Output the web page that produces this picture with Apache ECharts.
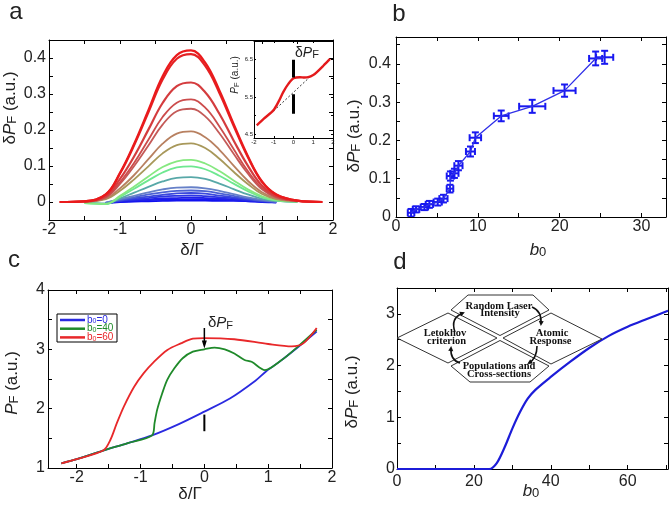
<!DOCTYPE html>
<html>
<head>
<meta charset="utf-8">
<script src="https://cdn.jsdelivr.net/npm/echarts@6/dist/echarts.min.js"></script>
<style>
html, body { margin: 0; padding: 0; background: #fff; }
#chart { width: 671px; height: 508px; }
</style>
</head>
<body>
<div id="chart"></div>
<script>
var FONT = 'Liberation Sans';
var INK = '#222';

// ---- panel a: dPF vs detuning, one curve per b0 (low/blue -> high/red)
var aX = [-1.85, -1.5, -1.2, -1.0, -0.8, -0.6, -0.4, -0.2, 0, 0.2, 0.4, 0.6, 0.8, 1.0, 1.2, 1.5, 1.85];
var aCurves = [
    [null, null, -0.003, 0.000, 0.001, 0.002, 0.003, 0.004, 0.004, 0.004, 0.003, 0.003, 0.002, 0.000, -0.001, null, null],
    [null, null, -0.003, 0.001, 0.003, 0.005, 0.006, 0.007, 0.008, 0.008, 0.007, 0.005, 0.003, 0.001, -0.001, null, null],
    [null, null, -0.003, 0.002, 0.005, 0.007, 0.010, 0.011, 0.012, 0.011, 0.009, 0.007, 0.004, 0.001, -0.001, null, null],
    [null, null, -0.003, 0.003, 0.007, 0.011, 0.015, 0.017, 0.018, 0.016, 0.013, 0.010, 0.006, 0.002, 0.000, null, null],
    [null, null, -0.003, 0.004, 0.010, 0.015, 0.020, 0.024, 0.025, 0.023, 0.018, 0.013, 0.008, 0.003, 0.000, null, null],
    [null, null, -0.002, 0.006, 0.013, 0.021, 0.027, 0.031, 0.032, 0.030, 0.024, 0.017, 0.010, 0.004, 0.001, null, null],
    [null, null, -0.002, 0.008, 0.017, 0.027, 0.035, 0.040, 0.041, 0.038, 0.031, 0.022, 0.013, 0.006, 0.001, null, null],
    [null, -0.002, -0.004, 0.010, 0.026, 0.042, 0.057, 0.067, 0.069, 0.064, 0.051, 0.036, 0.021, 0.009, 0.003, 0.000, null],
    [null, -0.003, -0.006, 0.014, 0.037, 0.060, 0.082, 0.096, 0.099, 0.091, 0.073, 0.051, 0.030, 0.013, 0.004, 0.001, null],
    [null, -0.003, -0.005, 0.017, 0.043, 0.071, 0.097, 0.113, 0.117, 0.107, 0.086, 0.060, 0.035, 0.016, 0.005, 0.001, null],
    [null, 0.001, 0.008, 0.031, 0.063, 0.099, 0.135, 0.158, 0.163, 0.150, 0.120, 0.084, 0.050, 0.022, 0.008, 0.002, null],
    [null, 0.001, 0.010, 0.038, 0.075, 0.119, 0.162, 0.190, 0.196, 0.180, 0.145, 0.101, 0.059, 0.027, 0.010, 0.002, null],
    [null, 0.001, 0.013, 0.050, 0.100, 0.157, 0.215, 0.252, 0.259, 0.238, 0.191, 0.134, 0.079, 0.035, 0.013, 0.003, null],
    [null, 0.001, 0.014, 0.055, 0.109, 0.173, 0.236, 0.276, 0.285, 0.262, 0.210, 0.147, 0.086, 0.039, 0.014, 0.003, null],
    [0.000, 0.002, 0.017, 0.064, 0.127, 0.201, 0.275, 0.322, 0.332, 0.305, 0.245, 0.171, 0.101, 0.045, 0.017, 0.003, 0.000],
    [0.000, 0.002, 0.021, 0.079, 0.158, 0.249, 0.340, 0.398, 0.411, 0.378, 0.303, 0.212, 0.125, 0.056, 0.021, 0.004, 0.000],
    [0.000, 0.002, 0.021, 0.081, 0.162, 0.255, 0.349, 0.408, 0.421, 0.387, 0.310, 0.217, 0.128, 0.057, 0.021, 0.004, 0.000]
];
var aColors = ['#1010f0', '#1818ee', '#2020e8', '#2c34e4', '#3a48dc', '#4c62d4', '#6680c8', '#58a8a8',
    '#6ee890', '#86e880', '#a8985a', '#b88060', '#c45a58', '#cc4c4c', '#d43c3e', '#e42224', '#ea1a1c'];

// inset of panel a: PF vs detuning
var inX = [-1.86, -1.5, -1.02, -0.75, -0.52, -0.26, 0, 0.33, 0.55, 0.75, 1.0, 1.17, 1.5, 1.85];
var inY = [4.74, 4.92, 5.14, 5.38, 5.63, 5.85, 6.0, 6.03, 6.02, 6.03, 6.09, 6.16, 6.33, 6.52];
var inDashX = [-1.0, 0.92];
var inDashY = [5.13, 6.08];
var inBarUp = [6.02, 6.5];
var inBarLow = [5.05, 5.57];

// ---- panel b: dPF vs b0 with error bars
var bX = [1.84, 2.45, 3.47, 4.08, 5.1, 5.8, 6.6, 6.65, 7.14, 7.63, 9.1, 9.7, 12.86, 16.65, 20.6, 24.4, 25.5];
var bY = [0.011, 0.020, 0.026, 0.033, 0.039, 0.048, 0.074, 0.107, 0.114, 0.134, 0.171, 0.207, 0.264, 0.289, 0.330, 0.414, 0.417];
var bXErr = [0.4, 0.4, 0.45, 0.45, 0.5, 0.5, 0.4, 0.45, 0.5, 0.5, 0.55, 0.7, 0.9, 1.6, 1.35, 0.8, 1.05];
var bYErr = [0.010, 0.008, 0.008, 0.009, 0.009, 0.010, 0.010, 0.012, 0.012, 0.012, 0.013, 0.014, 0.014, 0.017, 0.016, 0.018, 0.017];

// ---- panel c: PF vs detuning for b0 = 0, 40, 60
var c0X = [-2.24, -2.0, -1.6, -1.2, -0.82, -0.4, 0, 0.4, 0.8, 0.97, 1.2, 1.47, 1.76];
var c0Y = [1.08, 1.15, 1.29, 1.42, 1.55, 1.74, 1.95, 2.17, 2.47, 2.63, 2.81, 3.04, 3.3];
var c40X = [-2.24, -2.0, -1.6, -1.2, -0.82, -0.78, -0.74, -0.66, -0.58, -0.47, -0.34, -0.18, 0, 0.16, 0.32, 0.47, 0.63, 0.74, 0.95, 1.2, 1.47, 1.76];
var c40Y = [1.08, 1.15, 1.29, 1.42, 1.55, 1.76, 1.98, 2.26, 2.49, 2.68, 2.85, 2.96, 3.0, 3.03, 3.0, 2.93, 2.82, 2.79, 2.65, 2.81, 3.05, 3.33];
var c60X = [-2.24, -2.0, -1.58, -1.47, -1.37, -1.26, -1.1, -0.95, -0.79, -0.58, -0.37, -0.18, 0, 0.47, 1.0, 1.37, 1.55, 1.76];
var c60Y = [1.08, 1.15, 1.30, 1.48, 1.76, 2.04, 2.37, 2.6, 2.79, 2.99, 3.10, 3.18, 3.19, 3.17, 3.09, 3.05, 3.10, 3.36];
var cArrowDown = [3.36, 3.08];
var cBarUp = [1.62, 1.90];

// ---- panel d: dPF vs b0 (theory)
var dX = [0, 24, 26, 28, 30, 32, 34, 36, 40, 45, 50, 55, 60, 65, 70.5];
var dY = [0, 0, 0.12, 0.42, 0.78, 1.1, 1.36, 1.53, 1.78, 2.07, 2.34, 2.57, 2.75, 2.9, 3.06];

function pairs(xs, ys) {
    return xs.map(function (x, i) { return [x, ys[i]]; });
}
function every(step) {
    return function (v) {
        var k = v / step;
        return Math.abs(k - Math.round(k)) < 1e-6 ? String(Math.round(v * 1e6) / 1e6) : '';
    };
}

var grids = [], xAxes = [], yAxes = [];
function panel(pos, xa, ya, fs, tl, mx, my) {
    var g = grids.length;
    grids.push({ left: pos[0], top: pos[1], width: pos[2], height: pos[3], containLabel: false });
    ['bottom', 'top'].forEach(function (p, k) {
        xAxes.push({
            type: 'value', gridIndex: g, position: p, min: xa.min, max: xa.max,
            interval: xa.interval, splitNumber: xa.split,
            axisLine: { onZero: false, lineStyle: { color: '#000', width: 1 } },
            axisTick: { inside: true, length: tl, lineStyle: { color: '#000', width: 1 } },
            splitLine: { show: false },
            axisLabel: { show: k === 0, formatter: xa.fmt, fontSize: fs, color: INK, fontFamily: FONT, margin: mx }
        });
    });
    ['left', 'right'].forEach(function (p, k) {
        yAxes.push({
            type: 'value', gridIndex: g, position: p, min: ya.min, max: ya.max,
            interval: ya.interval, splitNumber: ya.split,
            axisLine: { onZero: false, lineStyle: { color: '#000', width: 1 } },
            axisTick: { inside: true, length: tl, lineStyle: { color: '#000', width: 1 } },
            splitLine: { show: false },
            axisLabel: { show: k === 0, formatter: ya.fmt, fontSize: fs, color: INK, fontFamily: FONT, margin: my }
        });
    });
    return g * 2;
}

var aI = panel([49, 40, 284, 180], { min: -2, max: 2, interval: 0.5, fmt: every(1) },
    { min: -0.05, max: 0.45, interval: 0.05, fmt: every(0.1) }, 16, 4, 2, 3);
var inI = panel([254, 41, 79, 97], { min: -2, max: 2, interval: 1, fmt: every(1) },
    { min: 4.4, max: 7, split: 5, fmt: function (v) { var k = v - 0.5; return Math.abs(k - Math.round(k)) < 1e-6 ? v.toFixed(1) : ''; } }, 6, 2, 1, 1);
var bI = panel([396, 37, 270, 180], { min: 0, max: 33, interval: 5, fmt: every(10) },
    { min: 0, max: 0.47, interval: 0.05, fmt: every(0.1) }, 16, 4, 2, 5);
var cI = panel([48, 290, 284, 178], { min: -2.45, max: 2, split: 9, fmt: every(1) },
    { min: 1, max: 4, interval: 0.5, fmt: every(1) }, 16, 4, 2, 3);
var dI = panel([397, 288, 271, 181], { min: 0, max: 70.5, interval: 10, fmt: every(20) },
    { min: 0, max: 3.5, interval: 0.5, fmt: every(1) }, 16, 4, 5, 2);

var series = [];
aCurves.forEach(function (ys, i) {
    series.push({
        type: 'line', xAxisIndex: aI, yAxisIndex: aI, data: pairs(aX, ys), smooth: 0.4,
        showSymbol: false, symbol: 'none', lineStyle: { color: aColors[i], width: i > 13 ? 2.2 : 1.8 }, connectNulls: false
    });
});
series.push({ type: 'line', xAxisIndex: inI, yAxisIndex: inI, data: pairs(inDashX, inDashY), symbol: 'none',
    lineStyle: { color: '#000', width: 0.8, type: [2, 2] } });
series.push({ type: 'line', xAxisIndex: inI, yAxisIndex: inI, data: pairs(inX, inY), smooth: 0.3, symbol: 'none',
    lineStyle: { color: '#e41a1c', width: 2.4 } });
series.push({ type: 'line', xAxisIndex: inI, yAxisIndex: inI, data: pairs([0, 0], inBarUp), symbol: 'none',
    lineStyle: { color: '#000', width: 3 } });
series.push({ type: 'line', xAxisIndex: inI, yAxisIndex: inI, data: pairs([0, 0], inBarLow), symbol: 'none',
    lineStyle: { color: '#000', width: 3 } });

series.push({ type: 'line', xAxisIndex: bI, yAxisIndex: bI, data: pairs(bX, bY), symbol: 'none',
    lineStyle: { color: '#3030e8', width: 1.3 } });
series.push({
    type: 'custom', xAxisIndex: bI, yAxisIndex: bI, clip: true,
    data: bX.map(function (x, i) { return [x, bY[i], bXErr[i], bYErr[i]]; }),
    encode: { x: 0, y: 1 },
    renderItem: function (params, api) {
        var x = api.value(0), y = api.value(1), ex = api.value(2), ey = api.value(3);
        var l = api.coord([x - ex, y]), r = api.coord([x + ex, y]);
        var t = api.coord([x, y + ey]), b = api.coord([x, y - ey]);
        var c = 3.5;
        var st = { stroke: '#1818f0', lineWidth: 2 };
        function seg(x1, y1, x2, y2) { return { type: 'line', shape: { x1: x1, y1: y1, x2: x2, y2: y2 }, style: st }; }
        return {
            type: 'group', children: [
                seg(l[0], l[1], r[0], r[1]), seg(l[0], l[1] - c, l[0], l[1] + c), seg(r[0], r[1] - c, r[0], r[1] + c),
                seg(t[0], t[1], b[0], b[1]), seg(t[0] - c, t[1], t[0] + c, t[1]), seg(b[0] - c, b[1], b[0] + c, b[1])
            ]
        };
    }
});

series.push({ type: 'line', xAxisIndex: cI, yAxisIndex: cI, data: pairs(c0X, c0Y), smooth: 0.3, symbol: 'none',
    lineStyle: { color: '#2a2ae0', width: 1.8 } });
series.push({ type: 'line', xAxisIndex: cI, yAxisIndex: cI, data: pairs(c40X, c40Y), smooth: 0.3, symbol: 'none',
    lineStyle: { color: '#1f8a2a', width: 1.8 } });
series.push({ type: 'line', xAxisIndex: cI, yAxisIndex: cI, data: pairs(c60X, c60Y), smooth: 0.3, symbol: 'none',
    lineStyle: { color: '#e8282a', width: 1.8 } });
series.push({ type: 'line', xAxisIndex: cI, yAxisIndex: cI, showSymbol: true,
    data: [{ value: [0, cArrowDown[0]], symbol: 'none' },
           { value: [0, cArrowDown[1]], symbol: 'triangle', symbolRotate: 180, symbolSize: [5, 8] }],
    itemStyle: { color: '#000' }, lineStyle: { color: '#000', width: 1.5 } });
series.push({ type: 'line', xAxisIndex: cI, yAxisIndex: cI, data: pairs([0, 0], cBarUp), symbol: 'none',
    lineStyle: { color: '#000', width: 2 } });

series.push({ type: 'line', xAxisIndex: dI, yAxisIndex: dI, data: pairs(dX, dY), smooth: 0.3, symbol: 'none',
    lineStyle: { color: '#1c1cd8', width: 2.2 } });

// ---- annotation text
var rich = function (fs) {
    return {
        i: { fontStyle: 'italic', fontSize: fs, fontFamily: FONT, fill: INK },
        n: { fontSize: fs, fontFamily: FONT, fill: INK },
        s: { fontSize: Math.round(fs * 0.75), fontFamily: FONT, fill: INK, verticalAlign: 'bottom', padding: [Math.round(fs * 0.3), 0, 0, 0] }
    };
};
function label(x, y, text, fs, rot, align) {
    return {
        type: 'text', x: x, y: y, rotation: rot || 0, z: 10,
        style: { text: text, fill: INK, fontSize: fs, fontFamily: FONT, align: align || 'center', verticalAlign: 'middle', rich: rich(fs) }
    };
}
var graphic = [
    label(16, 12, 'a', 24), label(399, 14, 'b', 24), label(14, 260, 'c', 24), label(400, 262, 'd', 24),
    label(10, 108, '{n|δ}{i|P}{s|F}{n| (a.u.)}', 17, Math.PI / 2),
    label(192, 250, 'δ/Γ', 17),
    label(235, 75, '{i|P}{s|F}{n| (a.u.)}', 10, Math.PI / 2),
    label(295, 53, '{n|δ}{i|P}{s|F}', 14, 0, 'left'),
    label(354, 136, '{n|δ}{i|P}{s|F}{n| (a.u.)}', 17, Math.PI / 2),
    label(538, 250, '{i|b}{s|0}', 17),
    label(12, 383, '{i|P}{s|F}{n| (a.u.)}', 17, Math.PI / 2),
    label(190, 494, 'δ/Γ', 17),
    label(208, 323, '{n|δ}{i|P}{s|F}', 15, 0, 'left'),
    label(352, 392, '{n|δ}{i|P}{s|F}{n| (a.u.)}', 17, Math.PI / 2),
    label(531, 491, '{i|b}{s|0}', 17)
];

// legend of panel c
var legendNames = ['0', '40', '60'];
var legendColors = ['#2a2ae0', '#1f8a2a', '#e8282a'];
graphic.push({ type: 'rect', shape: { x: 57, y: 314, width: 60, height: 28 }, style: { fill: '#fff', stroke: '#000', lineWidth: 1 }, z: 10 });
legendNames.forEach(function (n, i) {
    var y = 320 + i * 8.7;
    graphic.push({ type: 'line', shape: { x1: 60, y1: y, x2: 85, y2: y }, style: { stroke: legendColors[i], lineWidth: 2.5 }, z: 11 });
    graphic.push({
        type: 'text', x: 87, y: y, z: 11,
        style: {
            text: '{t|b}{s|0}{t|=' + n + '}', verticalAlign: 'middle', align: 'left',
            rich: {
                t: { fontSize: 10, fontFamily: FONT, fill: legendColors[i] },
                s: { fontSize: 7, fontFamily: FONT, fill: legendColors[i], verticalAlign: 'bottom' }
            }
        }
    });
});

// feedback-loop sketch inside panel d
var shapes = [
    [[451, 310], [468, 295], [533, 295], [549, 310], [500, 335.5]],
    [[451, 366], [470, 382], [530, 382], [549, 366], [500, 340.5]],
    [[397, 338], [448, 313], [497, 338], [448, 363]],
    [[503, 338], [551, 313], [602, 339], [551, 364]]
];
shapes.forEach(function (pts) {
    graphic.push({ type: 'polygon', shape: { points: pts }, style: { fill: 'none', stroke: '#333', lineWidth: 1 }, z: 10 });
});
var boxText = [
    ['Random Laser', 499, 306.5], ['Intensity', 500, 313.5],
    ['Letokhov', 445, 333.5], ['criterion', 446.5, 341.5],
    ['Atomic', 552, 333.5], ['Response', 550.5, 341.5],
    ['Populations and', 499, 366.5], ['Cross-sections', 499, 373.8]
];
boxText.forEach(function (t) {
    graphic.push({
        type: 'text', x: t[1], y: t[2], z: 11,
        style: { text: t[0], fontFamily: 'Liberation Serif', fontWeight: 'bold', fontSize: 10.5, fill: '#111', align: 'center', verticalAlign: 'middle' }
    });
});
var arcs = [
    [455, 332, 450, 318, 463, 313],
    [532, 307, 542, 311, 541, 324],
    [537, 346, 537, 358, 529, 363],
    [460, 363, 450, 360, 451, 348]
];
arcs.forEach(function (a) {
    graphic.push({ type: 'bezierCurve', shape: { x1: a[0], y1: a[1], cpx1: a[2], cpy1: a[3], x2: a[4], y2: a[5] },
        style: { stroke: '#111', lineWidth: 1.6, fill: 'none' }, z: 11 });
    var dx = a[4] - a[2], dy = a[5] - a[3], len = Math.sqrt(dx * dx + dy * dy);
    dx /= len; dy /= len;
    var tx = a[4] + dx * 2, ty = a[5] + dy * 2, bx = tx - dx * 5, by = ty - dy * 5;
    graphic.push({ type: 'polygon', shape: { points: [[tx, ty], [bx - dy * 2.5, by + dx * 2.5], [bx + dy * 2.5, by - dx * 2.5]] },
        style: { fill: '#111' }, z: 11 });
});

var chart = echarts.init(document.getElementById('chart'));
chart.setOption({
    animation: false,
    backgroundColor: '#fff',
    grid: grids,
    xAxis: xAxes,
    yAxis: yAxes,
    series: series,
    graphic: graphic
});
</script>
</body>
</html>
